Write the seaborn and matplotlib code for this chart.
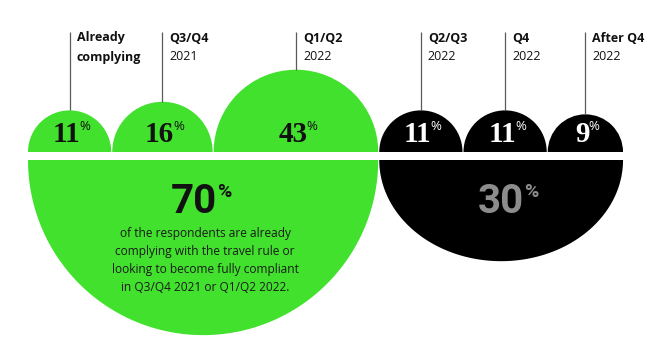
import numpy as np
import matplotlib
matplotlib.use("Agg")
import matplotlib.pyplot as plt
from matplotlib.patches import Wedge, Polygon
import seaborn as sns

# ---------------- data ----------------
label_top = ["Already", "Q3/Q4", "Q1/Q2", "Q2/Q3", "Q4", "After Q4"]
label_bottom = ["complying", "2021", "2022", "2022", "2022", "2022"]
values = [11, 16, 43, 11, 11, 9]
groups = [0, 0, 0, 1, 1, 1]          # 0 = complying by Q1/Q2 2022, 1 = later
summary_values = [70, 30]
summary_lines = [
    "of the respondents are already",
    "complying with the travel rule or",
    "looking to become fully compliant",
    "in Q3/Q4 2021 or Q1/Q2 2022.",
]

# ---------------- style ----------------
sns.set_style("white")
GREEN = "#42E12E"
BLACK = "#000000"
palette = sns.color_palette([GREEN, BLACK])
plt.rcParams["font.family"] = ["Open Sans", "DejaVu Sans"]

W, H = 658, 340
X0 = 28          # left edge of first half-circle
K = 12.55        # radius per sqrt(percent)
GAP = 1.0
BASE = H - 152   # baseline of upper half-circles
LOW_TOP = H - 160
LABEL_TOP = H - 32
BLACK_SQUASH = 0.83

fig = plt.figure(figsize=(W / 100, H / 100), dpi=100)
ax = fig.add_axes([0, 0, 1, 1])
ax.set_xlim(0, W)
ax.set_ylim(0, H)
ax.axis("off")

# upper half-circles (area proportional to value)
radii = [K * np.sqrt(v) for v in values]
centers = []
x = X0
for r in radii:
    centers.append(x + r)
    x += 2 * r + GAP

group_span = {}
for i, (v, r, cx, g) in enumerate(zip(values, radii, centers, groups)):
    col = palette[g]
    ax.add_patch(Wedge((cx, BASE), r, 0, 180, facecolor=col, edgecolor="none"))
    # leader line + labels
    ax.plot([cx, cx], [BASE + r, LABEL_TOP], color="#5a5a5a", lw=0.9,
            solid_capstyle="butt")
    ax.text(cx + 7, H - 38, label_top[i], fontsize=9, fontweight="bold",
            color="#111111", va="center", ha="left")
    sub_bold = not label_bottom[i].isdigit()
    ax.text(cx + 7, H - 57, label_bottom[i], fontsize=9,
            fontweight="bold" if sub_bold else "normal",
            color="#111111", va="center", ha="left")
    # value
    tcol = "#111111" if g == 0 else "white"
    t = ax.text(cx - 3, H - 142, f"{v}", fontsize=21, fontweight="bold",
                family=["Liberation Serif", "DejaVu Serif"], color=tcol,
                ha="center", va="baseline")
    ax.annotate("%", xy=(1, 1), xycoords=t, xytext=(-0.6, 0.8),
                textcoords="offset points", fontsize=9.5, color=tcol,
                family=["Open Sans", "DejaVu Sans"], ha="left", va="top")
    lo, hi = group_span.get(g, (np.inf, -np.inf))
    group_span[g] = (min(lo, cx - r), max(hi, cx + r))

# lower half-ellipses
num_shift = [-9, 0]
num_colors = ["#111111", "#8c8c8c"]
for g, sv in enumerate(summary_values):
    lo, hi = group_span[g]
    cx = (lo + hi) / 2
    a = (hi - lo) / 2
    b = a if g == 0 else a * BLACK_SQUASH
    th = np.linspace(np.pi, 2 * np.pi, 200)
    pts = np.column_stack([cx + a * np.cos(th), LOW_TOP + b * np.sin(th)])
    ax.add_patch(Polygon(pts, closed=True, facecolor=palette[g], edgecolor="none"))
    t = ax.text(cx + num_shift[g], H - 213, f"{sv}", fontsize=29,
                fontweight="bold", family=["Roboto", "DejaVu Sans"],
                color=num_colors[g], ha="center", va="baseline")
    ax.annotate("%", xy=(1, 1), xycoords=t, xytext=(-0.3, 0),
                textcoords="offset points", fontsize=14, fontweight="bold",
                family=["Roboto", "DejaVu Sans"], color=num_colors[g],
                ha="left", va="top")
    if g == 0:
        for j, line in enumerate(summary_lines):
            ax.text(cx + 2, H - 233 - 18.3 * j, line, fontsize=8.6,
                    color="#1a1a1a", ha="center", va="center")

fig.savefig("out.png", dpi=100)
